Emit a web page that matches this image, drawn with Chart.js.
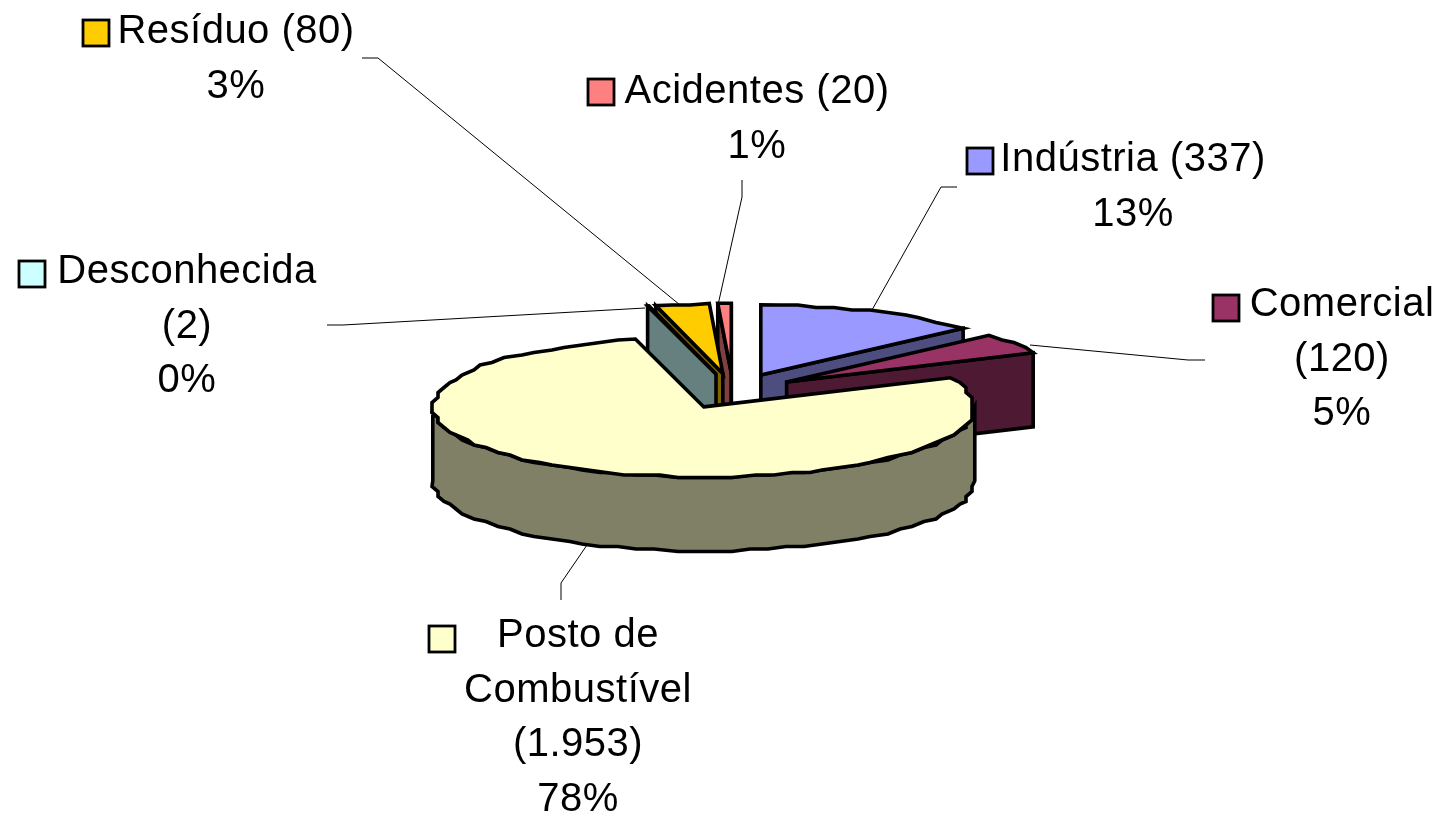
<!DOCTYPE html>
<html lang="pt-BR">
<head>
<meta charset="utf-8">
<title>Fontes</title>
<script src="https://cdn.jsdelivr.net/npm/chart.js@4/dist/chart.umd.js"></script>
<style>
  html, body { margin: 0; padding: 0; background: #fff; overflow: hidden; }
  canvas { display: block; }
</style>
</head>
<body>
<canvas id="pieChart" width="1441" height="816"></canvas>
<script>
const categories = ['Indústria', 'Comercial', 'Posto de Combustível', 'Desconhecida', 'Resíduo', 'Acidentes'];
const counts = [337, 120, 1953, 2, 80, 20];
const topColors = ['#9999FF', '#993366', '#FFFFCC', '#CCFFFF', '#FFCC00', '#FF8080'];
const wallColors = ['#4D4D80', '#4D1933', '#808066', '#668080', '#806600', '#804040'];
const labelLines = [
  ['Indústria (337)', '13%'],
  ['Comercial', '(120)', '5%'],
  ['Posto de', 'Combustível', '(1.953)', '78%'],
  ['Desconhecida', '(2)', '0%'],
  ['Resíduo (80)', '3%'],
  ['Acidentes (20)', '1%']
];

// back to front
const paintOrder = [5, 4, 3, 0, 1, 2];
const explode = [68, 64, 68, 68, 68, 68];

const TILT = 0.259;
const DEPTH = 74;
const SNAP_X = 6;
const SNAP_Y = 2.5;
const STEP = 4 * Math.PI / 180;
const FONT = '40px "Liberation Sans", Arial, sans-serif';

// text centre x and first baseline, key box, leader polyline
const labelBoxes = [
  { cx: 1133, y: 171, key: [967, 148], leader: [[957, 187], [941, 187], [872, 310]] },
  { cx: 1342, y: 316, key: [1213, 295], leader: [[1205, 360], [1188, 360], [1030, 345]] },
  { cx: 578, y: 647, key: [429, 626], leader: [[561, 600], [561, 583], [587, 545]] },
  { cx: 187, y: 283, key: [19, 261], leader: [[327, 325], [343, 325], [645, 308]] },
  { cx: 236, y: 43, key: [83, 20], leader: [[362, 58], [378, 58], [680, 305]] },
  { cx: 757, y: 103, key: [588, 79], leader: [[742, 180], [742, 197], [718, 305]] }
];

// Rim points of one slice, flattened and coarsely sampled
function rimPoints(c, from, to, dy) {
  const pts = [];
  const n = Math.max(1, Math.round((to - from) / STEP));
  for (let i = 0; i <= n; i++) {
    const a = from + (to - from) * i / n;
    const x = c.ax + c.r * Math.cos(a);
    const y = c.ay + c.r * Math.sin(a) * TILT;
    if (i === 0 || i === n) pts.push([x, y + dy]);
    else pts.push([Math.round(x / SNAP_X) * SNAP_X, Math.round(y / SNAP_Y) * SNAP_Y + dy]);
  }
  return pts;
}

function drawPolygon(ctx, pts, fill) {
  ctx.beginPath();
  pts.forEach((p, i) => (i ? ctx.lineTo(p[0], p[1]) : ctx.moveTo(p[0], p[1])));
  ctx.closePath();
  ctx.fillStyle = fill;
  ctx.fill();
  ctx.stroke();
}

function drawSlice(ctx, arc, i) {
  const { x, y, startAngle, endAngle, outerRadius } = arc.getProps(['x', 'y', 'startAngle', 'endAngle', 'outerRadius'], true);
  const mid = (startAngle + endAngle) / 2;
  const c = {
    ax: x + explode[i] * Math.cos(mid),
    ay: y + explode[i] * TILT * Math.sin(mid),
    r: outerRadius
  };
  const edge = a => [c.ax + c.r * Math.cos(a), c.ay + c.r * Math.sin(a) * TILT];

  // radial cut faces, only when they turn towards the viewer
  if (Math.cos(startAngle) < 0) {
    const p = edge(startAngle);
    drawPolygon(ctx, [[c.ax, c.ay], p, [p[0], p[1] + DEPTH], [c.ax, c.ay + DEPTH]], wallColors[i]);
  }
  if (Math.cos(endAngle) > 0) {
    const p = edge(endAngle);
    drawPolygon(ctx, [[c.ax, c.ay], p, [p[0], p[1] + DEPTH], [c.ax, c.ay + DEPTH]], wallColors[i]);
  }

  // outer wall, front half only
  const from = Math.max(startAngle, 0);
  const to = Math.min(endAngle, Math.PI);
  if (to > from) {
    const upper = rimPoints(c, from, to, 0);
    const lower = rimPoints(c, from, to, DEPTH).reverse();
    drawPolygon(ctx, upper.concat(lower), wallColors[i]);
  }

  drawPolygon(ctx, [[c.ax, c.ay]].concat(rimPoints(c, startAngle, endAngle, 0)), topColors[i]);
}

function drawLabels(ctx) {
  labelBoxes.forEach((box, i) => {
    ctx.lineWidth = 1;
    ctx.strokeStyle = '#000';
    ctx.beginPath();
    box.leader.forEach((p, k) => (k ? ctx.lineTo(p[0], p[1]) : ctx.moveTo(p[0], p[1])));
    ctx.stroke();

    ctx.lineWidth = 2.8;
    ctx.fillStyle = topColors[i];
    ctx.fillRect(box.key[0], box.key[1], 26, 26);
    ctx.strokeRect(box.key[0], box.key[1], 26, 26);

    ctx.fillStyle = '#000';
    ctx.font = FONT;
    ctx.letterSpacing = '0.5px';
    ctx.textAlign = 'center';
    ctx.textBaseline = 'alphabetic';
    labelLines[i].forEach((line, k) => ctx.fillText(line, box.cx, box.y + k * 54.5));
  });
}

const pie3d = {
  id: 'pie3d',
  beforeDatasetsDraw(chart) {
    const ctx = chart.ctx;
    const arcs = chart.getDatasetMeta(0).data;
    ctx.save();
    ctx.lineWidth = 3.6;
    ctx.lineJoin = 'miter';
    ctx.strokeStyle = '#000';
    paintOrder.forEach(i => drawSlice(ctx, arcs[i], i));
    ctx.restore();
    ctx.save();
    drawLabels(ctx);
    ctx.restore();
    return false;
  }
};

new Chart(document.getElementById('pieChart'), {
  type: 'pie',
  data: {
    labels: categories,
    datasets: [{ data: counts, backgroundColor: topColors }]
  },
  options: {
    responsive: false,
    animation: false,
    radius: 271,
    layout: { padding: { left: 25, bottom: 34 } },
    plugins: { legend: { display: false }, tooltip: { enabled: false } }
  },
  plugins: [pie3d]
});
</script>
</body>
</html>
